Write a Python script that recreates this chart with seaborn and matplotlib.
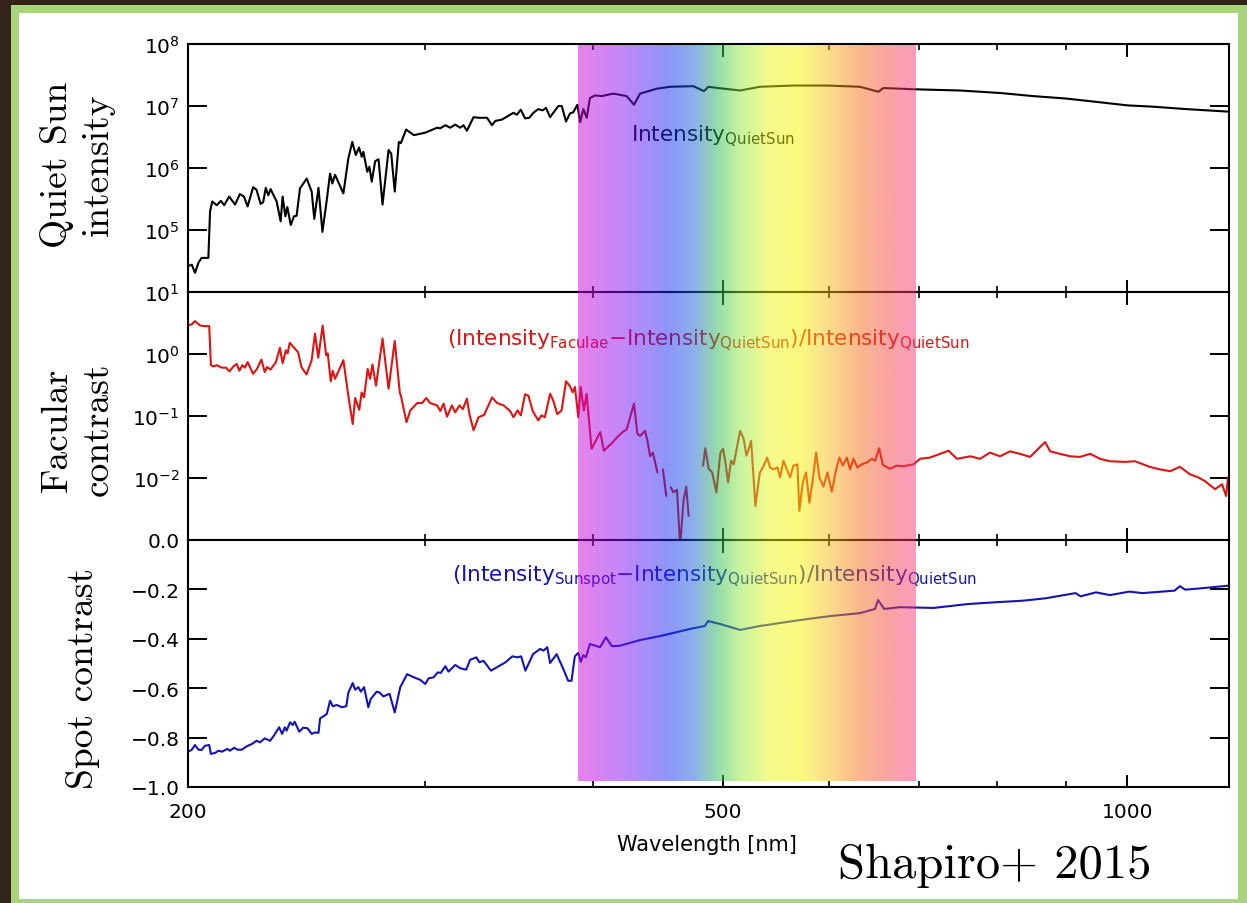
import numpy as np
import pandas as pd
import matplotlib
matplotlib.use("Agg")
import matplotlib.pyplot as plt
from matplotlib.colors import LinearSegmentedColormap
from matplotlib.patches import Rectangle
from matplotlib.ticker import NullLocator, NullFormatter
import seaborn as sns

# quiet sun intensity (log10 of intensity)
quiet_nm = [200.1, 201.3, 202.4, 203.6, 204.7, 207.1, 207.7, 208.5, 210.1, 211.6,
            212.8, 214.6, 216.8, 218.6, 220.1, 221.5, 223.6, 224.9, 226.5, 227.5,
            228.5, 229.5, 230.4, 232.8, 234.4, 235.2, 236.3, 237.1, 238.5, 239.8,
            240.9, 242.3, 245.1, 247.2, 248.3, 250.1, 251.8, 253.7, 255.1, 256.1,
            257.3, 261.0, 263.2, 265.0, 266.6, 268.1, 269.3, 270.1, 271.9, 272.9,
            274.0, 275.6, 277.2, 279.1, 282.0, 283.3, 285.0, 287.0, 288.0, 290.6,
            294.5, 300.3, 306.5, 308.1, 310.8, 313.4, 316.1, 318.8, 320.6, 322.5,
            326.2, 329.0, 333.8, 336.7, 338.6, 342.4, 349.3, 351.3, 353.7, 356.3,
            358.9, 361.4, 364.4, 367.2, 369.3, 371.9, 377.2, 379.4, 382.2, 384.8,
            387.0, 389.7, 391.5, 393.7, 396.0, 398.2, 401.6, 406.3, 414.4, 424.0,
            429.4, 433.9, 446.6, 456.8, 475.3, 484.1, 487.7, 500.4, 515.0, 532.9,
            564.2, 597.4, 632.5, 652.6, 658.2, 693.1, 750.6, 803.8, 850.6, 900.6,
            954.0, 1000, 1043, 1106, 1187]
quiet_log10 = [4.42, 4.44, 4.31, 4.47, 4.55, 4.55, 5.30, 5.46, 5.40, 5.47,
               5.40, 5.54, 5.41, 5.58, 5.54, 5.38, 5.69, 5.65, 5.42, 5.45,
               5.68, 5.56, 5.66, 5.46, 5.14, 5.54, 5.22, 5.37, 5.08, 5.22,
               5.23, 5.67, 5.83, 5.62, 5.18, 5.68, 4.97, 5.49, 5.91, 5.75,
               5.89, 5.59, 6.15, 6.42, 6.21, 6.33, 6.18, 6.26, 5.94, 6.02,
               5.78, 6.11, 6.14, 5.41, 6.29, 6.23, 5.62, 6.42, 6.40, 6.62,
               6.53, 6.57, 6.65, 6.64, 6.69, 6.65, 6.70, 6.65, 6.69, 6.60,
               6.82, 6.81, 6.81, 6.69, 6.76, 6.78, 6.89, 6.86, 6.94, 6.80,
               6.81, 6.89, 6.95, 6.93, 6.97, 6.82, 7.00, 7.00, 6.75, 6.88,
               6.90, 7.02, 6.74, 6.95, 6.81, 7.13, 7.17, 7.16, 7.20, 7.16,
               7.02, 7.20, 7.28, 7.31, 7.32, 7.24, 7.31, 7.28, 7.25, 7.31,
               7.33, 7.33, 7.31, 7.23, 7.29, 7.27, 7.25, 7.21, 7.16, 7.12,
               7.06, 7.01, 6.99, 6.95, 6.91]

# facular contrast (log10), nan = gap in the curve
facular_nm = [200.1, 201.3, 202.4, 204.2, 205.4, 207.4, 208.0, 208.9, 210.1, 211.9,
              213.5, 214.7, 216.2, 217.4, 218.4, 219.5, 220.5, 221.5, 223.6, 225.1,
              226.8, 228.1, 229.0, 230.4, 232.5, 234.1, 235.2, 236.5, 237.2, 238.1,
              240.1, 241.5, 242.9, 245.0, 247.2, 248.6, 250.0, 251.9, 253.4, 254.1,
              255.4, 256.3, 257.3, 261.0, 263.2, 265.2, 266.3, 268.2, 269.3, 270.4,
              272.1, 273.2, 274.3, 276.0, 279.1, 282.0, 285.0, 287.5, 288.0, 290.8,
              292.7, 296.2, 298.7, 300.8, 302.8, 306.5, 308.1, 309.9, 311.7, 314.3,
              316.1, 318.4, 320.3, 322.5, 323.9, 326.2, 329.0, 332.2, 336.7, 339.6,
              343.5, 347.3, 349.3, 351.7, 353.7, 356.3, 358.3, 361.0, 364.4, 366.5,
              368.6, 371.9, 373.9, 376.5, 379.3, 382.2, 384.8, 386.6, 388.1, 390.3,
              391.9, 394.1, 395.9, 399.3, 405.3, 407.8, 413.3, 417.3, 421.6, 424.0,
              429.4, 431.9, 433.9, 437.6, 439.4, 441.4, 443.5, 447.0,
              449.0,
              451.2, 453.8,
              455.5,
              457.3, 459.4, 462.2, 464.7, 467.4, 469.6, 471.5,
              477.0,
              483.3, 485.2, 488.0, 490.9, 494.5, 497.9, 500.2, 502.2, 504.5, 507.1,
              509.4, 512.4, 515.0,
              518.2, 520.6, 522.7, 524.8, 528.7, 532.6, 536.3, 539.4, 542.1, 545.3,
              549.1, 551.5, 554.7, 557.9, 561.0, 564.2, 568.1, 570.0, 573.4, 576.6,
              579.9, 583.3, 586.6, 589.9, 594.0, 598.1, 602.6, 607.1, 610.5, 614.1,
              618.3, 621.8, 625.3, 629.6, 634.3, 639.8, 645.3, 649.0, 653.5, 657.6,
              665.8, 673.5, 681.3, 693.1, 701.0, 713.1, 725.4, 736.0, 746.7, 764.1,
              776.8, 790.2, 803.8,
              817.8, 831.8, 846.3, 868.4, 876.0, 890.8, 906.5, 921.8, 938.0, 954.0,
              970.6, 996, 1013, 1039, 1057, 1076, 1094, 1113, 1129, 1142,
              1162, 1176, 1184, 1188]
facular_log10 = [0.46, 0.48, 0.53, 0.46, 0.45, 0.45, -0.18, -0.20, -0.18, -0.22,
                 -0.22, -0.28, -0.20, -0.16, -0.27, -0.18, -0.22, -0.13, -0.32, -0.24,
                 -0.09, -0.29, -0.21, -0.25, -0.13, 0.10, -0.15, 0.06, 0.01, 0.18,
                 0.09, 0.03, -0.21, -0.33, -0.10, 0.33, -0.06, 0.46, -0.02, 0.01,
                 -0.44, -0.27, -0.40, -0.10, -0.67, -1.13, -0.71, -0.90, -0.62, -0.70,
                 -0.24, -0.40, -0.17, -0.51, 0.25, -0.56, 0.21, -0.63, -0.67, -1.10,
                 -0.91, -0.79, -0.79, -0.71, -0.79, -0.83, -0.92, -0.80, -1.01, -0.83,
                 -0.94, -0.83, -0.89, -0.72, -0.97, -1.23, -1.02, -0.98, -0.70, -0.79,
                 -0.83, -0.92, -1.02, -0.91, -0.99, -0.65, -0.67, -0.92, -1.07, -0.99,
                 -1.02, -0.64, -0.75, -0.97, -0.91, -0.44, -0.52, -0.62, -0.53, -1.02,
                 -0.53, -0.91, -0.64, -1.53, -1.26, -1.56, -1.44, -1.34, -1.25, -1.22,
                 -0.80, -1.29, -1.32, -1.24, -1.40, -1.65, -1.59, -1.91,
                 np.nan,
                 -1.86, -2.29,
                 np.nan,
                 -2.15, -2.23, -2.19, -3.10, -2.37, -2.14, -2.61,
                 np.nan,
                 -1.80, -1.52, -1.85, -1.91, -2.23, -1.59, -1.53, -1.75, -2.07, -1.72,
                 -1.78, -1.49, -1.24,
                 -1.37, -1.64, -1.53, -1.40, -2.45, -1.92, -1.80, -1.67, -1.83, -1.86,
                 -1.83, -1.99, -1.72, -1.86, -1.99, -1.80, -1.78, -2.53, -2.07, -1.91,
                 -2.40, -2.02, -1.59, -1.99, -2.14, -1.91, -2.22, -1.86, -1.67, -1.80,
                 -1.67, -1.86, -1.69, -1.83, -1.78, -1.75, -1.69, -1.72, -1.52, -1.79,
                 -1.85, -1.80, -1.81, -1.78, -1.69, -1.67, -1.61, -1.56, -1.69, -1.65,
                 -1.69, -1.59, -1.65,
                 -1.57, -1.61, -1.66, -1.42, -1.57, -1.61, -1.65, -1.66, -1.61, -1.69,
                 -1.73, -1.74, -1.73, -1.82, -1.86, -1.89, -1.82, -1.94, -1.99, -2.05,
                 -2.18, -2.10, -2.29, -1.99]

# sunspot contrast
spot_nm = [200.1, 201.3, 202.4, 203.6, 204.7, 205.9, 207.4, 208.0, 209.5, 210.8,
           212.0, 213.9, 214.9, 216.5, 217.7, 219.3, 221.2, 223.1, 224.9, 226.3,
           228.1, 230.2, 231.7, 233.8, 235.0, 236.1, 236.8, 238.2, 239.3, 240.1,
           242.0, 243.6, 245.4, 247.2, 248.6, 250.1, 250.8, 252.2, 253.7, 255.1,
           256.3, 258.1, 260.3, 262.3, 263.2, 265.2, 266.3, 267.8, 268.9, 270.4,
           272.4, 273.5, 276.3, 277.6, 279.5, 282.5, 285.0, 287.7, 291.1, 294.5,
           297.7, 300.3, 302.0, 304.6, 306.8, 308.4, 310.8, 312.5, 316.1, 318.8,
           322.1, 324.3, 327.7, 329.5, 331.8, 336.1, 340.6, 344.6, 348.6, 351.9,
           353.9, 356.5, 361.2, 365.6, 367.7, 370.1, 371.9, 376.1, 380.4, 383.6,
           385.8, 388.0, 390.3, 392.0, 393.6, 395.4, 398.2, 405.1, 409.3, 413.4,
           419.2, 433.9, 449.0, 472.7, 484.9, 487.5, 497.6, 515.0, 532.9, 551.5,
           570.7, 600.8, 632.5, 649.0, 652.3, 659.1, 677.3, 717.4, 761.6, 803.8,
           834.9, 869.1, 914.9, 922.8, 947.5, 970.5, 1003, 1026, 1084, 1094,
           1104, 1132, 1188]
spot_contrast = [-0.857, -0.849, -0.830, -0.849, -0.850, -0.833, -0.830, -0.866, -0.862, -0.853,
                 -0.857, -0.846, -0.853, -0.841, -0.849, -0.849, -0.835, -0.826, -0.813, -0.819,
                 -0.803, -0.813, -0.792, -0.758, -0.785, -0.758, -0.772, -0.738, -0.749, -0.736,
                 -0.776, -0.760, -0.762, -0.785, -0.779, -0.781, -0.722, -0.714, -0.704, -0.651,
                 -0.673, -0.668, -0.677, -0.673, -0.619, -0.579, -0.606, -0.596, -0.614, -0.596,
                 -0.677, -0.644, -0.614, -0.617, -0.633, -0.623, -0.698, -0.596, -0.543, -0.556,
                 -0.566, -0.583, -0.560, -0.556, -0.536, -0.538, -0.511, -0.533, -0.506, -0.519,
                 -0.525, -0.485, -0.475, -0.495, -0.489, -0.529, -0.511, -0.495, -0.471, -0.475,
                 -0.471, -0.529, -0.462, -0.441, -0.448, -0.434, -0.498, -0.462, -0.522, -0.570,
                 -0.570, -0.471, -0.457, -0.493, -0.466, -0.475, -0.421, -0.434, -0.394, -0.430,
                 -0.428, -0.405, -0.389, -0.360, -0.348, -0.328, -0.340, -0.364, -0.348, -0.336,
                 -0.324, -0.308, -0.296, -0.279, -0.243, -0.279, -0.272, -0.275, -0.259, -0.251,
                 -0.246, -0.236, -0.215, -0.228, -0.212, -0.223, -0.209, -0.215, -0.205, -0.187,
                 -0.201, -0.196, -0.185]

# visible band overlay
band_nm = [390, 420, 455, 475, 495, 515, 540, 570, 600, 630, 660, 695]
band_colors = ["#cd05d7", "#870ff5", "#192df1", "#195fd7", "#2db955", "#91eb41",
               "#ebf519", "#f5f501", "#f9b919", "#f57319", "#f54b41", "#f5377d"]

sns.set_theme(style="ticks")
plt.rcParams["font.family"] = ["DejaVu Sans"]
plt.rcParams["mathtext.fontset"] = "dejavusans"

W, H = 1247, 904
fig = plt.figure(figsize=(W / 100, H / 100), dpi=100)
fig.patch.set_facecolor("#34251c")
fig.add_artist(Rectangle((11 / W, 0), 1, 1 - 6 / H, transform=fig.transFigure,
                         facecolor="#a9d47e", edgecolor="none", zorder=-20))
fig.add_artist(Rectangle((19 / W, 4 / H), (1238 - 19) / W, (900 - 14) / H,
                         transform=fig.transFigure, facecolor="white",
                         edgecolor="none", zorder=-19))

L, R = 188 / W, 1229 / W
tops, bots = [45, 293, 541], [293, 541, 788]
axes = [fig.add_axes([L, 1 - b / H, R - L, (b - t) / H]) for t, b in zip(tops, bots)]
ax0, ax1, ax2 = axes

quiet = pd.DataFrame({"nm": quiet_nm, "val": 10 ** np.array(quiet_log10)})
sns.lineplot(data=quiet, x="nm", y="val", ax=ax0, color="black", linewidth=1.5,
             estimator=None, sort=False)

fac = pd.DataFrame({"nm": facular_nm, "val": 10 ** np.array(facular_log10)})
fac["seg"] = fac["val"].isna().cumsum()
fac = fac.dropna()
sns.lineplot(data=fac, x="nm", y="val", units="seg", ax=ax1, color="#dc1414",
             linewidth=1.5, estimator=None, sort=False)

spot = pd.DataFrame({"nm": spot_nm, "val": spot_contrast})
sns.lineplot(data=spot, x="nm", y="val", ax=ax2, color="#1414b4", linewidth=1.5,
             estimator=None, sort=False)

for ax in axes:
    ax.set_xscale("log")
    ax.set_xlim(200, 1190)
    ax.set_xticks([200, 500, 1000], labels=["200", "500", "1000"])
    ax.set_xticks([300, 400, 600, 700, 800, 900], minor=True)
    ax.xaxis.set_minor_formatter(NullFormatter())
    ax.tick_params(axis="x", which="major", direction="in", length=9, width=1.4,
                   top=True, bottom=True, pad=11, labelsize=14.5, colors="black")
    ax.tick_params(axis="x", which="minor", direction="in", length=4.5, width=1.4,
                   top=True, bottom=True)
    ax.tick_params(axis="y", which="major", direction="in", length=14, width=1.4,
                   left=True, right=True, pad=6, labelsize=14.5, colors="black")
    ax.yaxis.set_minor_locator(NullLocator())
    for s in ax.spines.values():
        s.set_linewidth(1.5)
        s.set_color("black")
    ax.set_xlabel("")
    ax.set_ylabel("")

ax0.tick_params(labelbottom=False)
ax1.tick_params(labelbottom=False)

ax0.set_yscale("log")
ax0.set_ylim(1e4, 1e8)
ax0.set_yticks([1e5, 1e6, 1e7, 1e8])
ax0.yaxis.set_minor_locator(NullLocator())
ax1.set_yscale("log")
ax1.set_ylim(1e-3, 1e1)
ax1.set_yticks([1e-2, 1e-1, 1e0, 1e1])
ax1.yaxis.set_minor_locator(NullLocator())
ax2.set_ylim(-1.0, 0.0)
ax2.set_yticks([-1.0, -0.8, -0.6, -0.4, -0.2, 0.0],
               labels=["\u22121.0", "\u22120.8", "\u22120.6", "\u22120.4", "\u22120.2", "0.0"])

ylab = dict(family="cmr10", fontsize=27, linespacing=1.3, va="center", color="black")
ax0.set_ylabel("Quiet Sun\nintensity", **ylab)
ax0.yaxis.set_label_coords(-0.106, 0.516)
ax1.set_ylabel("Facular\ncontrast", **ylab)
ax1.yaxis.set_label_coords(-0.106, 0.45)
ax2.set_ylabel("Spot contrast", **ylab)
ax2.yaxis.set_label_coords(-0.101, 0.445)

ax2.set_xlabel("Wavelength [nm]", fontsize=15, va="center", color="black")
ax2.xaxis.set_label_coords(0.4986, -0.231)

ax0.text(0.4256, 0.633, r"$\mathrm{Intensity}_{\mathrm{QuietSun}}$",
         transform=ax0.transAxes, fontsize=15.5, color="black", ha="left", va="center")
ax1.text(0.249, 0.81,
         r"$\mathrm{(Intensity}_{\mathrm{Faculae}}\mathrm{-Intensity}_{\mathrm{QuietSun}}"
         r"\mathrm{)/Intensity}_{\mathrm{QuietSun}}$",
         transform=ax1.transAxes, fontsize=15.5, color="#dc1414", ha="left", va="center")
ax2.text(0.2536, 0.854,
         r"$\mathrm{(Intensity}_{\mathrm{Sunspot}}\mathrm{-Intensity}_{\mathrm{QuietSun}}"
         r"\mathrm{)/Intensity}_{\mathrm{QuietSun}}$",
         transform=ax2.transAxes, fontsize=15.5, color="#1414b4", ha="left", va="center")

# rainbow band drawn over everything, semi transparent
band_ax = fig.add_axes([L, 1 - 782 / H, R - L, (782 - 46) / H])
band_ax.set_zorder(5)
lo, hi = np.log10(band_nm[0]), np.log10(band_nm[-1])
stops = [(np.log10(n) - lo) / (hi - lo) for n in band_nm]
cmap = LinearSegmentedColormap.from_list("band", list(zip(stops, band_colors)))
band_ax.imshow(np.linspace(0, 1, 512)[None, :], extent=[lo, hi, 0, 1], aspect="auto",
               cmap=cmap, alpha=0.5, interpolation="bilinear")
band_ax.set_xlim(np.log10(200), np.log10(1190))
band_ax.set_ylim(0, 1)
band_ax.axis("off")

fig.text(838 / W, 1 - 878 / H, "Shapiro+ 2015", family="cmr10", fontsize=35,
         ha="left", va="baseline", color="black")

fig.savefig("out.png", dpi=100, facecolor=fig.get_facecolor())
